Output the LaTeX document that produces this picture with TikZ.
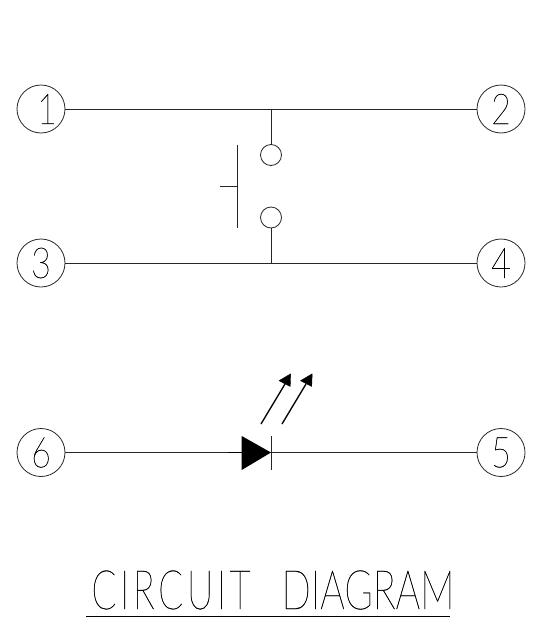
\documentclass[tikz,border=0pt]{standalone}
\usepackage{fontspec}
\newfontfamily\thinf{Lato}[UprightFont=* Thin,FakeBold=0.5]
\newfontfamily\thinsp{Lato}[UprightFont=* Thin,FakeBold=0.5,LetterSpace=10]
\newcommand{\digitbox}[1]{\scalebox{0.9}[1.12]{#1}}
\begin{document}
\begin{tikzpicture}[x=1pt,y=-1pt,
  wire/.style={line width=0.8pt,draw=black!85},
  term/.style={circle,draw=black!85,line width=0.8pt,minimum size=48pt,inner sep=0pt,font=\thinf\fontsize{38}{38}\selectfont},
  contact/.style={circle,draw=black!85,line width=0.8pt,minimum size=21pt,inner sep=0pt},
  ray/.style={line width=1.3pt,draw=black},
  head/.style={fill=black,draw=black,line width=0.4pt,line join=round}]
\useasboundingbox (0,0) rectangle (540,621);
\node[term] (t1) at (41,109) {\hspace*{12pt}\digitbox{1}};
\node[term] (t2) at (501,109) {\digitbox{2}};
\node[term] (t3) at (41,263) {\digitbox{3}};
\node[term] (t4) at (501,263) {\digitbox{4}};
\node[term] (t6) at (41,452.5) {\digitbox{6}};
\node[term] (t5) at (501,452.5) {\digitbox{5}};
\draw[wire] (t1) -- (t2);
\draw[wire] (t3) -- (t4);
\node[contact] (c1) at (271,155) {};
\node[contact] (c2) at (271,217.5) {};
\coordinate (j1) at (271,109);
\coordinate (j2) at (271,263);
\draw[wire] (j1) -- (c1);
\draw[wire] (c2) -- (j2);
\coordinate (b1) at (237,144.5);
\coordinate (b2) at (237,228);
\coordinate (b3) at (237,186);
\coordinate (b4) at (220,186);
\draw[wire] (b1) -- (b2);
\draw[wire] (b3) -- (b4);
% LED
\coordinate (a) at (241.7,452.5);
\coordinate (k) at (271,452.5);
\coordinate (s) at (228,452.5);
\draw[wire] (t6) -- (a);
\draw[line width=1pt] (s) -- (a);
\draw[wire] (k) -- (t5);
\fill[black] (241.7,436) -- (271,452.5) -- (241.7,470) -- cycle;
\draw[wire] (271,436) -- (271,470);
\draw[ray] (261,424) -- (285,384);
\filldraw[head] (290.7,373.8) -- (279,380.7) -- (290.2,386.5) -- cycle;
\draw[ray] (282,424) -- (306,384);
\filldraw[head] (312.2,373.8) -- (300.5,380.7) -- (311.7,386.5) -- cycle;
% title
\node[inner sep=0pt] (w1) at (171,590) {\resizebox*{159pt}{39pt}{\thinsp CIRCUIT}};
\node[inner sep=0pt] (w2) at (368,590) {\resizebox*{173pt}{39pt}{\thinf DIAGRAM}};
\coordinate (u1) at (86,616);
\coordinate (u2) at (450,616);
\draw[line width=1pt] (u1) -- (u2);
\end{tikzpicture}
\end{document}
